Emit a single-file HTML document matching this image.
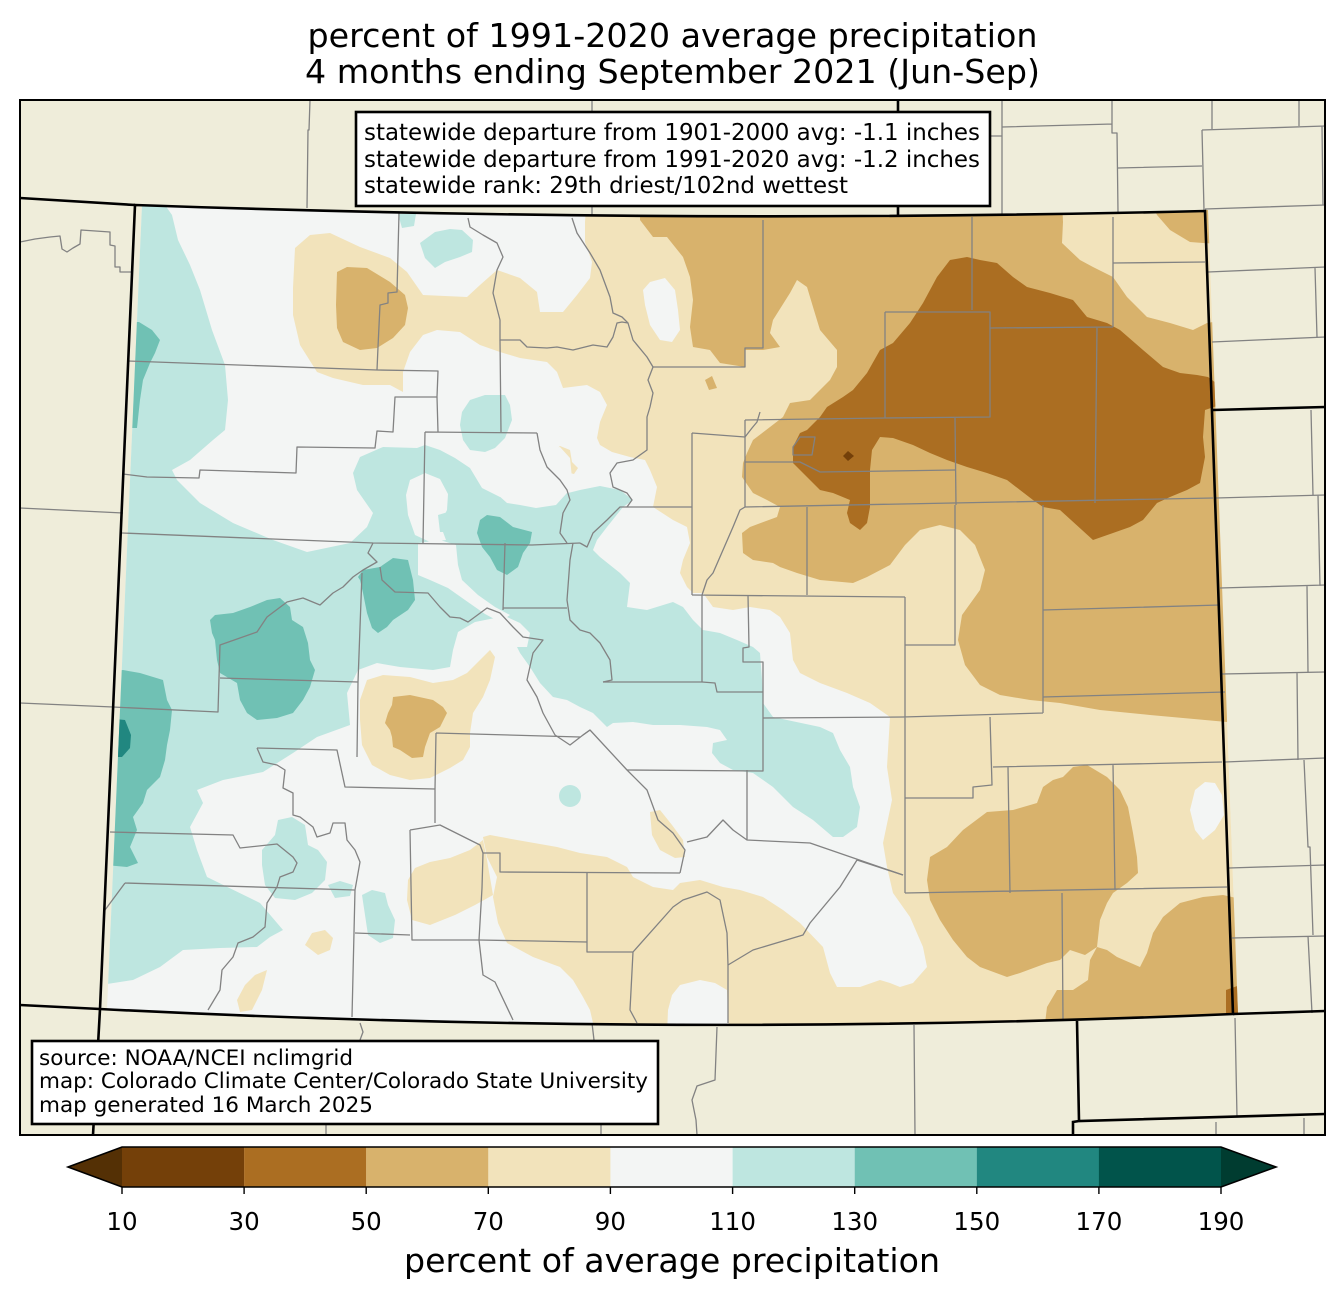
<!DOCTYPE html>
<html><head><meta charset="utf-8"><style>html,body{margin:0;padding:0;background:#fff}svg{display:block}text{font-family:"DejaVu Sans","Liberation Sans",sans-serif}</style></head><body>
<svg xmlns="http://www.w3.org/2000/svg" width="1344" height="1299" viewBox="0 0 1344 1299">
<defs>
<clipPath id="frame"><rect x="20" y="100" width="1305" height="1035"/></clipPath>
<clipPath id="co"><path d="M142,205 Q670,224 1208,210 L1238,1014 Q670,1038 107,1009 Z"/></clipPath>
</defs>
<rect width="1344" height="1299" fill="#fff"/>
<text x="672.5" y="47" font-size="33.3" text-anchor="middle" textLength="730" lengthAdjust="spacingAndGlyphs">percent of 1991-2020 average precipitation</text>
<text x="672.5" y="83" font-size="33.3" text-anchor="middle" textLength="735" lengthAdjust="spacingAndGlyphs">4 months ending September 2021 (Jun-Sep)</text>
<g clip-path="url(#frame)">
<rect x="20" y="100" width="1305" height="1035" fill="#efedda"/>
<g clip-path="url(#co)">
<rect x="90" y="190" width="1170" height="860" fill="#f3f5f4"/>
<!-- C70 big -->
<polygon fill="#f2e3bb" points="295,248 310,235 330,233 360,247 390,258 407,272 423,295 467,297 480,285 497,270 520,278 537,292 540,312 563,312 577,295 590,278 592,262 585,242 585,222 587,195 1250,195 1260,1045 593,1045 593,1023 590,1010 583,997 573,980 560,967 533,957 507,943 498,923 493,897 497,877 487,857 483,837 490,835 517,840 557,847 580,853 607,857 627,867 633,877 653,887 673,890 680,883 700,880 723,887 740,890 763,897 783,910 800,923 823,947 830,973 837,987 860,987 880,980 890,983 900,987 913,983 927,967 923,947 910,917 893,893 887,867 883,843 892,800 887,767 890,717 870,703 847,693 820,683 800,673 793,660 790,633 780,617 770,610 750,607 733,610 713,607 703,593 693,593 687,587 680,573 683,560 690,543 687,527 673,520 653,507 657,487 650,470 645,460 630,457 612,452 600,445 597,438 600,422 607,405 600,392 587,385 563,388 557,372 547,362 520,358 500,352 480,345 460,332 437,330 423,335 410,352 403,372 403,392 390,385 363,385 333,378 317,372 300,345 293,315 293,288"/>
<polygon fill="#f2e3bb" points="553,452 560,446 570,450 572,462 578,468 574,474 566,472 556,462"/>
<!-- white holes -->
<g fill="#f3f5f4">
<polygon points="650,282 665,278 675,290 678,310 680,330 672,342 660,340 650,325 645,305 643,290"/>
<polygon points="1195,790 1205,782 1215,783 1222,795 1224,815 1215,830 1203,840 1195,830 1190,810"/>
<polygon points="667,1035 668,1010 672,995 680,985 700,980 715,983 727,990 729,1035"/>
</g>
<!-- C110 -->
<g fill="#bee6e0">
<polygon points="100,200 165,205 172,215 178,240 190,265 200,290 212,330 225,365 228,400 225,430 213,440 190,460 172,470 177,480 200,503 233,523 273,540 307,552 350,543 367,527 373,513 357,490 353,473 360,457 383,447 417,448 425,445 440,450 455,458 470,468 482,488 500,497 520,498 540,503 560,495 580,490 600,486 620,490 633,500 623,507 607,527 597,540 593,550 600,557 620,573 630,583 627,607 647,610 673,602 683,607 693,620 703,630 720,633 737,640 753,647 760,653 762,680 763,703 773,717 787,720 820,727 833,733 840,750 850,767 853,787 860,807 857,827 843,837 833,837 813,820 793,807 773,787 753,773 733,770 720,763 712,753 713,743 727,740 720,730 707,727 680,725 653,725 633,722 613,723 607,727 600,720 593,713 580,707 567,700 553,697 540,683 530,667 520,653 517,647 527,647 530,633 520,623 507,617 495,618 475,622 458,632 453,650 450,667 433,670 400,667 377,663 358,670 347,693 350,725 317,737 293,753 263,772 223,780 197,790 203,803 190,827 197,850 207,877 260,903 283,930 270,937 257,947 220,948 183,950 160,967 133,980 100,985"/>
<polygon points="398,214 416,214 414,226 402,228"/>
<polygon points="420,243 435,232 450,229 462,230 473,240 472,252 460,257 445,262 435,268 425,258"/>
<polygon points="462,412 470,400 485,395 505,395 510,405 512,420 505,438 495,448 485,452 470,450 463,440 460,425"/>
<polygon points="262,850 275,835 278,820 292,817 305,825 308,845 318,850 327,862 325,880 312,893 295,900 275,898 265,885 262,865"/>
<polygon points="328,885 340,881 353,885 350,896 335,898"/>
<polygon points="362,895 372,890 385,893 388,905 395,920 393,938 380,943 368,935 365,915"/>
<circle cx="570" cy="796" r="11"/>
</g>
<!-- white overlays in teal -->
<g fill="#f3f5f4">
<polygon points="470,455 490,454 507,453 525,450 545,449 560,447 570,458 572,478 566,494 556,505 536,508 520,505 507,503 497,494 487,482 478,470"/>
<polygon points="410,480 425,473 440,479 448,494 447,510 440,524 446,540 430,542 415,535 408,515 406,495"/>
<polygon points="418,543 440,540 456,545 458,565 462,580 478,595 495,607 510,615 500,622 485,614 465,600 448,588 430,580 418,575"/>
</g>
<polygon fill="#bee6e0" points="438,515 448,512 454,522 450,532 440,532"/>
<!-- C70 small blobs -->
<g fill="#f2e3bb">
<polygon points="360,700 367,680 383,675 410,677 433,683 453,680 467,673 480,660 490,650 495,657 490,680 483,697 473,713 470,733 470,747 463,760 450,768 430,778 410,780 390,775 372,765 362,745 360,720"/>
<polygon points="408,880 415,868 430,862 450,858 470,850 483,840 487,860 493,895 475,905 455,915 430,925 412,920 407,900"/>
<polygon points="305,945 312,933 325,930 333,938 330,950 318,955"/>
<polygon points="237,1000 245,985 255,975 267,970 262,990 252,1010 240,1012"/>
<polygon points="650,812 660,810 672,825 683,840 685,857 675,858 660,850 652,835"/>
</g>
<!-- C50 -->
<g fill="#d8b26c">
<polygon points="640,200 1062,200 1063,222 1062,243 1080,260 1093,267 1113,277 1127,297 1147,317 1170,323 1193,330 1207,323 1225,320 1245,320 1245,720 1227,722 1150,715 1100,710 1060,703 1030,700 1000,695 980,685 965,665 958,640 962,615 980,590 985,570 975,545 960,530 940,525 920,530 905,545 890,565 867,577 853,583 820,580 797,573 780,567 773,563 753,560 743,553 742,533 750,527 777,517 780,507 767,500 753,493 742,477 743,463 747,453 753,440 770,427 783,417 790,403 810,400 820,390 830,380 837,367 837,350 820,330 813,307 807,287 797,280 790,293 773,320 770,333 780,347 763,350 745,350 745,367 720,363 710,350 693,347 690,327 693,300 690,277 683,257 667,237 653,237 640,220"/>
<polygon points="1150,200 1245,200 1245,245 1203,243 1190,242 1170,230 1157,215"/>
<polygon points="337,272 347,267 367,268 390,282 405,295 408,308 405,325 393,338 377,348 360,350 343,342 337,328 336,305"/>
<polygon points="393,697 410,695 433,700 443,707 447,713 440,727 430,733 425,747 423,757 412,758 400,750 393,747 392,737 390,730 385,723 388,713 392,705"/>
<polygon points="705,380 712,376 717,388 709,390"/>
<polygon points="930,857 947,847 963,830 987,812 1013,810 1037,803 1043,787 1053,780 1063,777 1073,767 1087,765 1107,777 1120,790 1128,807 1133,833 1137,857 1138,873 1127,883 1113,893 1107,903 1100,920 1097,947 1085,955 1070,950 1060,960 1047,963 1020,973 1007,977 980,967 967,957 953,940 940,920 930,900 927,880"/>
<polygon points="1097,947 1107,950 1117,957 1140,967 1147,953 1153,933 1163,917 1180,903 1203,897 1223,895 1245,900 1250,1040 1043,1040 1047,1007 1057,990 1073,990 1088,980 1090,960"/>
</g>
<!-- C30 -->
<g fill="#ab6e22">
<polygon points="880,350 893,343 910,323 923,303 937,277 950,260 967,257 980,260 997,263 1013,277 1027,287 1050,293 1073,300 1087,317 1107,323 1120,330 1143,350 1163,367 1180,373 1197,375 1208,377 1216,383 1220,405 1205,410 1203,437 1205,457 1200,483 1187,490 1170,497 1157,503 1143,520 1130,527 1113,533 1093,540 1060,510 1043,507 1033,500 1020,490 1007,480 987,473 967,467 947,460 930,453 913,445 893,438 880,437 872,450 870,470 870,507 867,523 860,530 850,523 847,513 850,500 833,493 820,490 807,477 793,463 793,447 800,433 807,430 820,417 827,407 843,397 853,390 867,373"/>
<polygon points="1226,990 1240,985 1240,1016 1226,1016"/>
</g>
<polygon fill="#744009" points="843,456 848,451 854,456 848,461"/>
<!-- C130 -->
<g fill="#70c1b4">
<polygon points="139,322 152,330 160,340 155,353 150,363 143,380 140,400 137,428 128,428 128,322"/>
<polygon points="487,515 500,517 513,527 532,532 530,543 523,553 518,567 507,575 497,570 490,557 482,547 477,533 480,520"/>
<polygon points="358,577 363,570 380,567 393,558 408,560 413,580 415,600 408,610 393,620 387,627 378,633 372,628 367,613 363,593 360,580"/>
<polygon points="210,620 215,615 233,613 250,607 267,600 280,598 290,607 292,620 303,627 308,643 310,660 315,670 310,687 303,700 293,713 277,718 257,720 247,713 240,700 237,683 220,673 217,660 215,640 212,633"/>
<polygon points="105,672 123,670 140,673 163,680 167,700 172,710 170,730 167,745 165,760 160,777 147,790 143,803 133,817 137,830 130,847 138,863 127,867 105,865"/>
</g>
<polygon fill="#218780" points="105,718 125,720 131,735 130,748 122,757 105,757"/>
</g>
<!-- county lines -->
<g fill="none" stroke="#828282" stroke-width="1.3" stroke-linejoin="round">
<path d="M310,100 L309,130 L308,130 L307,208"/>
<path d="M592,100 L592,216"/>
<path d="M1002,100 L1002,214 M990,136 L1002,136 M1002,127 L1112,124 M1112,100 L1112,133 L1117,133 L1118,212 M1118,168 L1202,166 M1212,100 L1212,129 M1202,130 L1325,126 M1299,100 L1299,126 M1202,130 L1204,210 M1322,126 L1323,205 M1205,209 L1325,205 M1208,272 L1325,267 M1212,342 L1325,337 M1315,268 L1317,337"/>
<path d="M1311,410 L1313,495 M1216,498 L1325,495 M1318,495 L1320,586 M1220,588 L1325,585 M1307,586 L1308,672 M1222,674 L1325,672 M1297,672 L1298,760 M1225,762 L1325,758 M1304,760 L1308,847 L1310,847 L1313,935 M1229,868 L1325,865 M1232,938 L1325,936 M1308,936 L1312,1013"/>
<path d="M1235,1018 L1237,1117 M1216,1122 L1216,1135 M1304,1118 L1304,1135 M914,1025 L915,1135 M717,1027 L715,1080 L697,1086 L692,1100 L696,1120 L697,1135 M592,1023 L594,1040 M601,1124 L601,1135 M360,1023 L363,1032 L360,1040 M326,1124 L326,1135"/>
<path d="M20,703 L113,707 M20,508 L123,513 M20,242 L35,239 L50,237 L60,236 L62,249 L67,252 L73,248 L80,244 L81,230 L110,232 L110,245 L115,246 L115,267 L120,267 L120,272 L131,272"/>
<path d="M399,213 L397,292 L388,293 L388,303 L380,305 L378,347 L377,370"/>
<path d="M128,361 L377,370 L438,371 L437,397 L395,397 L393,432 L377,431 L375,448 L297,447 L296,473 L200,470 L199,478 L147,477 L123,474"/>
<path d="M425,432 L537,433 M437,397 L438,432 M500,340 L501,432 M425,432 L423,543"/>
<path d="M122,533 L373,543 L532,545 L580,543"/>
<path d="M373,543 L368,553 L377,562 L363,570 L353,577 L343,587 L333,593 L320,605 L303,598 L287,602 L267,617 L257,632 L220,645 L219,678 L218,712 L113,707"/>
<path d="M220,678 L358,682 M362,573 L358,682 L357,757"/>
<path d="M380,567 L382,580 L395,592 L428,593 L440,607 L450,617 L460,618 L468,622 L487,608 L500,613 L513,627 L523,637 L543,640 L533,653 L527,680 L537,697 L543,713 L555,735 L570,745 L583,735 L590,730"/>
<path d="M505,543 L503,610 M503,608 L567,608 M436,733 L580,737 M436,733 L435,789"/>
<path d="M257,748 L337,750 L345,787 L435,789 L435,823"/>
<path d="M257,748 L263,762 L277,765 L285,770 L283,788 L293,793 L293,815 L300,817 L313,827 L317,837 L330,833 L333,823 L345,823 L347,840 L355,850 L360,862 L355,890"/>
<path d="M110,832 L233,835 L240,848 L277,844 L293,857 L297,863 L293,872 L280,877 L277,887 L267,903 L265,927 L253,937 L238,943 L233,957 L222,970 L220,990 L208,1010"/>
<path d="M125,883 L355,890 M125,883 L105,910 M355,890 L352,1017 M355,933 L410,935"/>
<path d="M410,830 L440,825 L480,845 L483,853 L500,853 L500,872 L680,873 M410,830 L412,940 L479,940 L587,942"/>
<path d="M483,853 L482,888 L479,940 L483,975 L495,982 L513,1020"/>
<path d="M587,873 L587,952 L633,952 L673,907 L683,900 L707,892 L720,900 L727,933 L728,965 L728,1023 M633,952 L630,1010 L637,1023"/>
<path d="M680,873 L685,850 L673,833 L658,820 L647,790 L627,770 L590,730 L583,735"/>
<path d="M728,965 L753,950 L803,935 L810,923 L840,887 L857,860 L903,875"/>
<path d="M687,842 L707,837 L723,820 L733,830 L747,840 L810,843 L903,875 M747,770 L747,840"/>
<path d="M627,770 L763,771 L763,690 M763,718 L903,717 M603,682 L702,682 L715,683 L717,692 L763,692"/>
<path d="M702,682 L702,595 M692,595 L905,597 M748,595 L749,647 L743,648 L743,662 L763,662 L763,690"/>
<path d="M702,595 L707,580 L713,573 L723,550 L733,527 L740,510 L745,507 L745,420"/>
<path d="M692,433 L692,595 M692,433 L745,437 M745,507 L1213,498 M807,507 L807,595 M745,462 L800,462 L820,472 L955,470 M745,420 L885,418"/>
<path d="M955,418 L956,505 M955,505 L955,645 L905,645 M885,312 L990,312 L990,417 L885,418 L885,312 M990,328 L1113,327 M972,217 L972,310 M1113,217 L1113,327 M1097,327 L1095,503 M1113,263 L1205,262"/>
<path d="M1043,505 L1043,713 M1043,610 L1220,605 M1043,697 L1225,692 M905,597 L905,893 M903,717 L1043,713 M990,717 L992,785 L973,787 L973,798 L905,798 M993,767 L1222,762 M1008,767 L1010,893 M1113,765 L1115,890 M905,893 L1227,887 M1062,893 L1063,1020"/>
<path d="M763,220 L763,348 L745,348 L745,367 L653,367"/>
<path d="M572,218 L577,233 L590,253 L600,270 L610,297 L613,313 L622,317 L628,323 L633,340 L647,357 L653,367 L648,380 L653,393 L650,407 L647,417 L647,450 L633,460 L617,463 L610,473 L613,487 L627,493 L632,500 L627,507 L692,507"/>
<path d="M468,218 L470,227 L483,235 L497,243 L503,257 L497,270 L493,293 L500,320 L500,340 L520,340 L527,347 L547,348 L557,347 L573,350 L593,345 L607,347 L613,337 L617,323 L622,322 L628,323"/>
<path d="M537,433 L540,450 L547,467 L560,480 L567,490 L570,500 L563,513 L560,533 L567,543 M580,543 L587,547 L593,533 L607,520 L620,507 L627,507"/>
<path d="M573,543 L570,560 L567,600 L570,620 L580,630 L590,633 L600,643 L610,660 L612,680 L603,682"/>
<path d="M745,437 L752,428 L757,422 L760,412 M793,447 L800,437 L815,437 L812,455 L793,455 Z"/>
</g>
<!-- state borders -->
<g fill="none" stroke="#000" stroke-width="2.6" stroke-linejoin="miter">
<path d="M135,205 Q670,224 1205,211 L1233,1014 Q670,1038 100,1009 Z"/>
<path d="M20,198 L135,205 M898,100 L898,215 M1213,410 L1325,407 M100,1009 L93,1135 M20,1005 L100,1009 M1233,1014 L1325,1011 M1077,1021 L1079,1121 L1325,1114 M1073,1135 L1073,1122 L1079,1121"/>
</g>
<!-- text boxes -->
<rect x="356" y="112" width="634" height="94" fill="#fff" stroke="#000" stroke-width="2.6"/>
<text x="364" y="140" font-size="22.9" textLength="616" lengthAdjust="spacingAndGlyphs">statewide departure from 1901-2000 avg: -1.1 inches</text>
<text x="364" y="167" font-size="22.9" textLength="616" lengthAdjust="spacingAndGlyphs">statewide departure from 1991-2020 avg: -1.2 inches</text>
<text x="364" y="193" font-size="22.9" textLength="484" lengthAdjust="spacingAndGlyphs">statewide rank: 29th driest/102nd wettest</text>
<rect x="32" y="1041" width="626" height="83" fill="#fff" stroke="#000" stroke-width="2.6"/>
<text x="39" y="1065" font-size="21.5" textLength="314" lengthAdjust="spacingAndGlyphs">source: NOAA/NCEI nclimgrid</text>
<text x="39" y="1088" font-size="21.5" textLength="609" lengthAdjust="spacingAndGlyphs">map: Colorado Climate Center/Colorado State University</text>
<text x="39" y="1112" font-size="21.5" textLength="334" lengthAdjust="spacingAndGlyphs">map generated 16 March 2025</text>
</g>
<rect x="20" y="100" width="1305" height="1035" fill="none" stroke="#000" stroke-width="2"/>
<!-- colorbar -->
<polygon points="68,1167 122,1147 122,1187" fill="#543005"/>
<polygon points="1276,1167 1221,1147 1221,1187" fill="#003c30"/>
<rect x="122" y="1147" width="122.2" height="40" fill="#744009"/>
<rect x="244.1" y="1147" width="122.2" height="40" fill="#ab6e22"/>
<rect x="366.2" y="1147" width="122.2" height="40" fill="#d8b26c"/>
<rect x="488.3" y="1147" width="122.2" height="40" fill="#f2e3bb"/>
<rect x="610.4" y="1147" width="122.2" height="40" fill="#f3f5f4"/>
<rect x="732.6" y="1147" width="122.2" height="40" fill="#bee6e0"/>
<rect x="854.7" y="1147" width="122.2" height="40" fill="#70c1b4"/>
<rect x="976.8" y="1147" width="122.2" height="40" fill="#218780"/>
<rect x="1098.9" y="1147" width="122.1" height="40" fill="#01544b"/>
<polygon points="68,1167 122,1147 1221,1147 1276,1167 1221,1187 122,1187" fill="none" stroke="#000" stroke-width="1.6"/>
<g stroke="#000" stroke-width="1.4">
<path d="M122,1187 V1194 M244.1,1187 V1194 M366.2,1187 V1194 M488.3,1187 V1194 M610.4,1187 V1194 M732.6,1187 V1194 M854.7,1187 V1194 M976.8,1187 V1194 M1098.9,1187 V1194 M1221,1187 V1194"/>
</g>
<g font-size="24.5" text-anchor="middle">
<text x="122" y="1230">10</text>
<text x="244.1" y="1230">30</text>
<text x="366.2" y="1230">50</text>
<text x="488.3" y="1230">70</text>
<text x="610.4" y="1230">90</text>
<text x="732.6" y="1230">110</text>
<text x="854.7" y="1230">130</text>
<text x="976.8" y="1230">150</text>
<text x="1098.9" y="1230">170</text>
<text x="1221" y="1230">190</text>
</g>
<text x="672" y="1272" font-size="33.3" text-anchor="middle" textLength="536" lengthAdjust="spacingAndGlyphs">percent of average precipitation</text>
</svg>
</body></html>
